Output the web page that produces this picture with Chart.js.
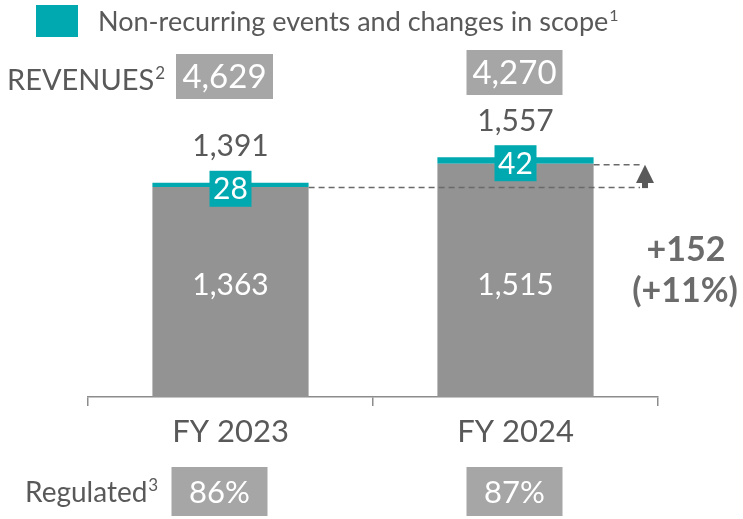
<!DOCTYPE html>
<html lang="en">
<head>
  <meta charset="UTF-8">
  <title>Revenues FY 2023 vs FY 2024</title>
  <script src="https://cdn.jsdelivr.net/npm/chart.js@4/dist/chart.umd.min.js"></script>
  <style>
    body { margin: 0; background: #fff; }
    #wrap { width: 743px; height: 519px; }
  </style>
</head>
<body>
  <div id="wrap"><canvas id="chart" width="743" height="519"></canvas></div>
  <script>
    // data
    const categories = ['FY 2023', 'FY 2024'];
    const recurring = [1363, 1515];
    const nonRecurring = [28, 42];
    const totals = [1391, 1557];
    const revenues = ['4,629', '4,270'];
    const regulated = ['86%', '87%'];
    const changeLabels = ['+152', '(+11%)'];
    const legendLabel = 'Non-recurring events and changes in scope';

    const TEAL = '#00a9af';
    const BAR_GRAY = '#939393';
    const BOX_GRAY = '#a6a6a6';
    const TEXT = '#595959';
    const FONT = 'Lato, "Open Sans", sans-serif';

    function fmt(n) {
      return n.toLocaleString('en-US');
    }

    // text with a small raised number after it
    function supText(ctx, text, sup, x, y, size) {
      ctx.font = size + 'px ' + FONT;
      ctx.textAlign = 'left';
      ctx.fillText(text, x, y);
      const w = ctx.measureText(text).width;
      ctx.font = Math.round(size * 0.6) + 'px ' + FONT;
      ctx.fillText(sup, x + w + 1, y - size * 0.38);
    }

    function box(ctx, text, cx, top, w, h, size) {
      ctx.fillStyle = BOX_GRAY;
      ctx.fillRect(cx - w / 2, top, w, h);
      ctx.fillStyle = '#fff';
      ctx.font = size + 'px ' + FONT;
      ctx.textAlign = 'center';
      ctx.textBaseline = 'middle';
      ctx.fillText(text, cx, top + h / 2 + 1);
    }

    const annotations = {
      id: 'annotations',
      afterDatasetsDraw(chart) {
        const ctx = chart.ctx;
        const y = chart.scales.y;
        const gray = chart.getDatasetMeta(0).data;
        ctx.save();

        // legend
        ctx.fillStyle = TEAL;
        ctx.fillRect(36, 5, 42, 32);
        ctx.fillStyle = TEXT;
        ctx.textBaseline = 'alphabetic';
        supText(ctx, legendLabel, '1', 98, 31, 27);

        // revenues row
        ctx.fillStyle = TEXT;
        ctx.textBaseline = 'alphabetic';
        supText(ctx, 'REVENUES', '2', 7, 90, 29);
        box(ctx, revenues[0], gray[0].x - 6, 54, 97, 45, 33);
        box(ctx, revenues[1], gray[1].x - 1, 50, 96, 45, 33);

        // regulated row
        ctx.fillStyle = TEXT;
        ctx.textBaseline = 'alphabetic';
        supText(ctx, 'Regulated', '3', 25, 502, 28);
        box(ctx, regulated[0], gray[0].x - 11, 467, 96, 49, 31);
        box(ctx, regulated[1], gray[1].x - 1, 467, 96, 49, 31);

        categories.forEach((c, i) => {
          const bar = gray[i];
          const topTotal = y.getPixelForValue(totals[i]);
          // total above the bar
          ctx.fillStyle = TEXT;
          ctx.font = '30px ' + FONT;
          ctx.textAlign = 'center';
          ctx.textBaseline = 'middle';
          ctx.fillText(fmt(totals[i]), bar.x, topTotal - 36);
          // teal label box
          ctx.fillStyle = TEAL;
          ctx.fillRect(bar.x - 21, topTotal - 12, 42, 36);
          ctx.fillStyle = '#fff';
          ctx.fillText(fmt(nonRecurring[i]), bar.x, topTotal + 7);
          // recurring value inside the bar
          ctx.fillText(fmt(recurring[i]), bar.x, bar.base - 112);
        });

        // dashed guide lines and arrow
        const y0 = gray[0].y;
        const y1 = gray[1].y;
        const ax = 645;
        ctx.strokeStyle = '#6a6a6a';
        ctx.lineWidth = 1.5;
        ctx.setLineDash([6, 4]);
        ctx.beginPath();
        ctx.moveTo(gray[0].x + gray[0].width / 2, y0 + 0.5);
        ctx.lineTo(ax - 5, y0 + 0.5);
        ctx.moveTo(gray[1].x + gray[1].width / 2, y1 + 1);
        ctx.lineTo(ax - 2, y1 + 1);
        ctx.stroke();
        ctx.setLineDash([]);
        ctx.fillStyle = '#595959';
        ctx.fillRect(ax - 3, y0 - 5, 6, 6);
        ctx.beginPath();
        ctx.moveTo(ax, y1 + 1);
        ctx.lineTo(ax + 9, y0 - 4);
        ctx.lineTo(ax - 9, y0 - 4);
        ctx.closePath();
        ctx.fill();

        // change text
        ctx.fillStyle = '#6b6b6b';
        ctx.font = 'bold 34px ' + FONT;
        ctx.textAlign = 'center';
        ctx.textBaseline = 'middle';
        ctx.fillText(changeLabels[0], 686, 250);
        ctx.fillText(changeLabels[1], 685, 291);

        ctx.restore();
      }
    };

    new Chart(document.getElementById('chart'), {
      type: 'bar',
      data: {
        labels: categories,
        datasets: [
          { label: 'Recurring', data: recurring, backgroundColor: BAR_GRAY },
          { label: legendLabel, data: nonRecurring, backgroundColor: TEAL }
        ]
      },
      options: {
        responsive: false,
        animation: false,
        events: [],
        layout: { padding: { top: 12, left: 88, right: 85, bottom: 0 } },
        datasets: {
          bar: { barPercentage: 0.548, categoryPercentage: 1, borderWidth: 0 }
        },
        plugins: { legend: { display: false }, tooltip: { enabled: false } },
        scales: {
          x: {
            stacked: true,
            afterFit: s => { s.height = 122; },
            border: { display: true, color: '#8c8c8c', width: 1.5 },
            grid: { offset: true, drawOnChartArea: false, drawTicks: true, tickLength: 9, color: '#8c8c8c', lineWidth: 1.5 },
            ticks: { color: TEXT, font: { family: FONT, size: 31 }, padding: 7 }
          },
          y: { stacked: true, display: false, min: 0, max: 2500 }
        }
      },
      plugins: [annotations]
    });
  </script>
</body>
</html>
